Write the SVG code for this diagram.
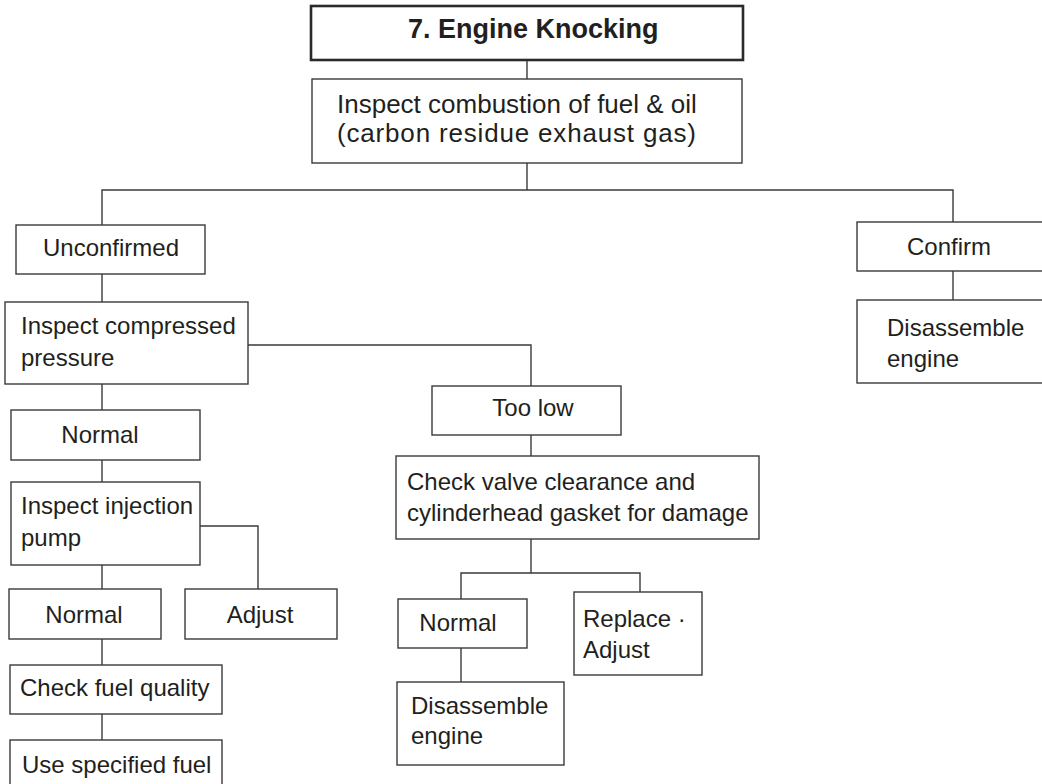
<svg xmlns="http://www.w3.org/2000/svg" width="1042" height="784" viewBox="0 0 1042 784">
<style>
.box{fill:#fff;stroke:#3a3a3a;stroke-width:1.4}
.tbox{fill:#fff;stroke:#2a2a2a;stroke-width:2.6}
.t{font-family:"Liberation Sans",Arial,sans-serif;font-size:24px;fill:#231f20}
.c{text-anchor:middle}
.big{font-size:26px}
.title{font-family:"Liberation Sans",Arial,sans-serif;font-size:27px;font-weight:bold;fill:#231f20}
.ln{fill:none;stroke:#3a3a3a;stroke-width:1.4}
</style>
<rect width="1042" height="784" fill="#fff"/>
<g id="connectors">
<path class="ln" d="M527,60V79"/>
<path class="ln" d="M527,163V190"/>
<path class="ln" d="M102,225V190H953V222"/>
<path class="ln" d="M102,274V302"/>
<path class="ln" d="M953,271V300"/>
<path class="ln" d="M248,345H531V386"/>
<path class="ln" d="M102,384V410"/>
<path class="ln" d="M102,460V482"/>
<path class="ln" d="M200,526H258V589"/>
<path class="ln" d="M102,565V589"/>
<path class="ln" d="M102,639V665"/>
<path class="ln" d="M102,714V740"/>
<path class="ln" d="M531,435V456"/>
<path class="ln" d="M531,539V573"/>
<path class="ln" d="M461,599V573H640V592"/>
<path class="ln" d="M461,648V682"/>
</g>
<g id="title">
<rect class="tbox" x="311" y="6" width="432" height="54"/>
<text class="title" x="408" y="38">7. Engine Knocking</text>
</g>
<g id="combustion">
<rect class="box" x="312" y="79" width="430" height="84"/>
<text class="t big" x="337" y="113">Inspect combustion of fuel &amp; oil</text>
<text class="t big" x="337" y="142" textLength="359">(carbon residue exhaust gas)</text>
</g>
<g id="unconfirmed">
<rect class="box" x="16" y="225" width="189" height="49"/>
<text class="t c" x="111" y="256">Unconfirmed</text>
</g>
<g id="confirm">
<rect class="box" x="857" y="222" width="190" height="49"/>
<text class="t c" x="949" y="255">Confirm</text>
</g>
<g id="disassemble1">
<rect class="box" x="857" y="300" width="190" height="83"/>
<text class="t" x="887" y="336">Disassemble</text>
<text class="t" x="887" y="367">engine</text>
</g>
<g id="compressed">
<rect class="box" x="5" y="302" width="243" height="82"/>
<text class="t" x="21" y="334">Inspect compressed</text>
<text class="t" x="21" y="366">pressure</text>
</g>
<g id="normal1">
<rect class="box" x="11" y="410" width="189" height="50"/>
<text class="t c" x="100" y="443">Normal</text>
</g>
<g id="injection">
<rect class="box" x="11" y="482" width="189" height="83"/>
<text class="t" x="21" y="514">Inspect injection</text>
<text class="t" x="21" y="546">pump</text>
</g>
<g id="normal2">
<rect class="box" x="9" y="589" width="152" height="50"/>
<text class="t c" x="84" y="623">Normal</text>
</g>
<g id="adjust1">
<rect class="box" x="185" y="589" width="152" height="50"/>
<text class="t c" x="260" y="623">Adjust</text>
</g>
<g id="fuelquality">
<rect class="box" x="10" y="665" width="212" height="49"/>
<text class="t" x="20" y="696">Check fuel quality</text>
</g>
<g id="usefuel">
<rect class="box" x="10" y="740" width="212" height="60"/>
<text class="t" x="22" y="773">Use specified fuel</text>
</g>
<g id="toolow">
<rect class="box" x="432" y="386" width="189" height="49"/>
<text class="t c" x="533" y="416">Too low</text>
</g>
<g id="valve">
<rect class="box" x="396" y="456" width="363" height="83"/>
<text class="t" x="407" y="490">Check valve clearance and</text>
<text class="t" x="407" y="521">cylinderhead gasket for damage</text>
</g>
<g id="normal3">
<rect class="box" x="398" y="599" width="129" height="49"/>
<text class="t c" x="458" y="631">Normal</text>
</g>
<g id="replace">
<rect class="box" x="574" y="592" width="128" height="83"/>
<text class="t" x="583" y="627">Replace ·</text>
<text class="t" x="583" y="658">Adjust</text>
</g>
<g id="disassemble2">
<rect class="box" x="397" y="682" width="167" height="83"/>
<text class="t" x="411" y="714">Disassemble</text>
<text class="t" x="411" y="744">engine</text>
</g>
</svg>
